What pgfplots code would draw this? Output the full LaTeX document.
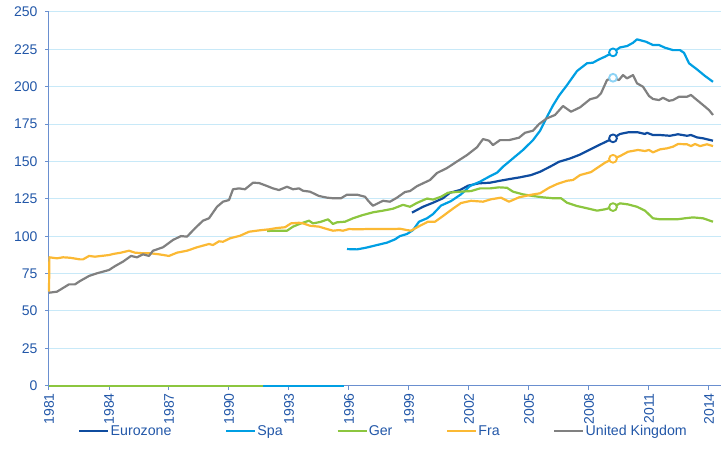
\documentclass[border=0pt]{standalone}
\usepackage{fontspec}
\setmainfont{Liberation Sans}
\usepackage{pgfplots}
\pgfplotsset{compat=1.18}

\definecolor{ezblue}{HTML}{0F4C9F}
\definecolor{spablue}{HTML}{009FE3}
\definecolor{gergreen}{HTML}{8CC63F}
\definecolor{fraorange}{HTML}{FBB934}
\definecolor{ukgrey}{HTML}{808080}
\definecolor{uklight}{HTML}{8DD3F5}
\definecolor{labelblue}{HTML}{2257A8}
\definecolor{axisblue}{HTML}{6A8FCF}
\definecolor{gridblue}{HTML}{C8E9F8}

\begin{document}
\begin{tikzpicture}
\path[use as bounding box] (-49bp,-70.3bp) rectangle (672bp,385.7bp);
\begin{axis}[
    at={(0,0)}, anchor=south west,
    scale only axis,
    width=672bp, height=373.7bp,
    xmin=1981, xmax=2014.6,
    ymin=0, ymax=250,
    clip=false,
    axis lines*=left,
    axis line style={draw=axisblue, line width=1bp},
    xtick={1981,1984,...,2014},
    ytick={0,25,...,250},
    tick align=outside,
    major tick length=4bp,
    tick style={draw=axisblue, line width=1bp},
    ymajorgrids=true,
    grid style={draw=gridblue, line width=1bp},
    font=\fontsize{14bp}{16bp}\selectfont,
    ticklabel style={text=labelblue},
    /pgf/number format/assume math mode=true,
    yticklabel style={xshift=-4bp},
    xticklabel style={rotate=90, anchor=east, /pgf/number format/1000 sep=},
    legend columns=5,
    legend style={at={(0,0)}, anchor=west, xshift=29bp, yshift=-45.3bp,
        draw=none, fill=none, inner sep=0pt,
        font=\fontsize{14.2bp}{16bp}\selectfont, text=labelblue,
        nodes={inner xsep=1bp, inner ysep=1bp},
        /tikz/every even column/.append style={column sep=52.5bp}},
    legend cell align=left,
    legend image code/.code={\draw[#1, line width=2.5bp] (0bp,0bp) -- (29bp,0bp);},
    every axis plot/.append style={line width=2.2bp, line join=round},
]
% Eurozone
\addplot[ezblue] coordinates {
(1999.15,115.8)(1999.7,119.7)(2000.2,122.4)(2000.7,125.4)(2001.05,129.1)(2001.55,130.9)(2001.95,133.8)(2002.5,135.4)(2003.05,135.8)(2003.55,137.1)(2004.05,138.3)(2004.55,139.4)(2005.1,140.9)(2005.55,143.1)(2006.05,146.5)(2006.5,149.8)(2007.05,152)(2007.55,154.6)(2008.05,158)(2008.55,161.3)(2009.2,165.5)(2009.55,168.4)(2009.95,169.5)(2010.45,169.5)(2010.8,168.4)(2010.9,169.2)(2011.2,167.7)(2011.55,167.7)(2012.05,167.2)(2012.45,168.2)(2012.9,167.2)(2013.1,167.7)(2013.4,166.1)(2013.7,165.5)(2014.2,163.9)
};
\addlegendentry{Eurozone}
% Spa
\addplot[spablue, forget plot] coordinates {(1991.7,0)(1995.75,0)};
\addplot[spablue] coordinates {
(1995.9,91.4)(1996.4,91.2)(1996.85,92.3)(1997.4,94.1)(1997.9,95.7)(1998.3,97.9)(1998.55,100.1)(1998.9,101.5)(1999.2,104.1)(1999.5,109.7)(1999.9,112)(2000.2,114.8)(2000.6,120.5)(2001.1,123.5)(2001.6,128)(2002.05,133.6)(2002.55,136.5)(2003.0,139.8)(2003.4,142.5)(2003.7,146.5)(2004.2,152.1)(2004.7,157.7)(2005.2,164.3)(2005.55,170.5)(2005.9,179.9)(2006.2,187.5)(2006.5,194)(2006.9,201.1)(2007.4,210.5)(2007.9,215.7)(2008.2,216.1)(2008.5,218.3)(2008.8,220.1)(2009.2,223)(2009.55,226.3)(2009.9,227.2)(2010.2,229.4)(2010.4,231.7)(2010.85,230.1)(2011.2,227.9)(2011.5,227.9)(2011.8,226.1)(2012.2,224.5)(2012.55,224.5)(2012.75,222.7)(2013.0,215.7)(2013.4,211.6)(2013.8,207.2)(2014.2,203.3)
};
\addlegendentry{Spa}
% Ger
\addplot[gergreen, forget plot] coordinates {(1981,0)(1991.7,0)};
\addplot[gergreen] coordinates {
(1991.9,103.5)(1992.4,103.7)(1992.9,103.7)(1993.2,106.4)(1993.6,108.6)(1994.0,110.4)(1994.2,108.6)(1994.55,109.5)(1994.95,111.3)(1995.2,108.2)(1995.4,109.3)(1995.8,109.7)(1996.2,112)(1996.7,114.2)(1997.2,116)(1997.7,117.1)(1998.2,118.4)(1998.7,121)(1999.05,119.7)(1999.4,122.3)(1999.9,125.2)(2000.2,124.5)(2000.6,126.4)(2000.95,129.1)(2001.55,129.8)(2002.1,130.2)(2002.55,132)(2003.05,132)(2003.5,132.7)(2003.9,132.4)(2004.2,129.8)(2004.7,128)(2005.2,126.9)(2005.7,126)(2006.2,125.4)(2006.6,125.4)(2006.9,122.4)(2007.4,120.2)(2007.9,118.7)(2008.4,117.1)(2008.8,118)(2009.2,119.5)(2009.55,122)(2009.95,121.3)(2010.4,119.7)(2010.8,117.1)(2011.2,112)(2011.55,111.3)(2012.4,111.3)(2012.8,112)(2013.2,112.6)(2013.7,112)(2014.2,109.7)
};
\addlegendentry{Ger}
% Fra
\addplot[fraorange] coordinates {
(1981.0,63)(1981.02,85.9)(1981.4,85.2)(1981.7,85.9)(1982.05,85.6)(1982.55,84.5)(1982.7,84.5)(1983.0,86.8)(1983.3,86.3)(1983.6,86.8)(1984.0,87.4)(1984.2,88.1)(1984.6,89)(1985.0,90.3)(1985.3,89)(1985.7,88.6)(1986.05,88.6)(1986.5,87.9)(1987.0,86.8)(1987.4,89)(1987.9,90.3)(1988.4,92.6)(1989.0,94.8)(1989.2,94.1)(1989.5,96.6)(1989.7,96.3)(1990.05,98.6)(1990.55,100.3)(1991.0,103)(1991.5,103.9)(1992.0,104.6)(1992.4,105.5)(1992.8,106)(1993.1,108.6)(1993.5,109)(1993.7,108.6)(1994.05,107)(1994.5,106.4)(1994.9,104.8)(1995.2,103.7)(1995.5,104.1)(1995.7,103.7)(1996.0,104.8)(1996.4,104.6)(1996.9,104.8)(1997.55,104.8)(1998.2,104.8)(1998.55,105)(1998.9,104.1)(1999.1,103.7)(1999.55,107)(1999.95,109.7)(2000.3,109.7)(2000.7,113.5)(2001.2,118.5)(2001.6,122.2)(2002.1,123.7)(2002.7,123.1)(2003.1,124.7)(2003.6,125.8)(2004.0,123.1)(2004.5,126)(2005.05,127.6)(2005.55,128.7)(2006.0,132.4)(2006.4,134.9)(2006.9,137.1)(2007.2,137.6)(2007.55,140.9)(2008.1,142.9)(2008.5,146.5)(2008.8,149.2)(2009.2,151.8)(2009.55,153.6)(2009.95,156.5)(2010.45,157.7)(2010.8,157)(2011.0,157.7)(2011.2,156.1)(2011.55,158.1)(2011.9,158.8)(2012.2,159.9)(2012.45,161.7)(2012.9,161.5)(2013.1,160.3)(2013.3,161.7)(2013.55,160.3)(2013.9,161.5)(2014.2,160.3)
};
\addlegendentry{Fra}
% United Kingdom
\addplot[ukgrey] coordinates {
(1981.0,62.2)(1981.4,62.9)(1982.0,67.8)(1982.3,67.8)(1982.55,70)(1983.0,73.4)(1983.4,75.2)(1984.0,77.4)(1984.3,80)(1984.7,83)(1985.1,86.8)(1985.4,85.9)(1985.7,87.9)(1986.0,86.8)(1986.2,90.3)(1986.7,92.6)(1987.2,97.5)(1987.6,100.1)(1987.9,99.7)(1988.3,105.3)(1988.7,110.4)(1989.0,112)(1989.4,119.7)(1989.7,123.1)(1990.0,124.2)(1990.2,131.4)(1990.5,132)(1990.8,131.4)(1991.2,135.8)(1991.5,135.6)(1991.9,133.6)(1992.2,132)(1992.5,130.9)(1992.9,133.1)(1993.2,131.4)(1993.5,132)(1993.7,130.4)(1994.05,129.8)(1994.5,126.9)(1994.9,125.8)(1995.2,125.4)(1995.6,125.4)(1995.9,127.8)(1996.4,127.8)(1996.8,126.4)(1997.0,123.1)(1997.2,120.4)(1997.5,122.4)(1997.7,123.7)(1998.05,123.1)(1998.4,125.8)(1998.8,129.6)(1999.05,130.2)(1999.4,133.5)(1999.7,135.4)(2000.05,137.6)(2000.4,142.3)(2000.9,145.6)(2001.4,150)(2001.9,154.3)(2002.4,159.5)(2002.7,165)(2003.0,163.9)(2003.2,161)(2003.55,164.3)(2004.0,164.3)(2004.5,165.9)(2004.8,169.2)(2005.2,170.6)(2005.5,175)(2005.9,178.9)(2006.3,181.1)(2006.7,187.1)(2007.1,183.3)(2007.55,186.2)(2008.05,191.6)(2008.4,192.9)(2008.6,195.6)(2008.9,204.5)(2009.2,206)(2009.5,204.5)(2009.7,207.8)(2009.9,205.6)(2010.2,207.8)(2010.4,202.3)(2010.7,200)(2011.0,193.8)(2011.2,191.8)(2011.5,191.1)(2011.7,192.6)(2012.0,190.6)(2012.2,191.1)(2012.5,193.3)(2012.9,193.3)(2013.1,194.5)(2013.3,192.2)(2013.7,187.8)(2014.0,184.4)(2014.2,181.1)
};
\addlegendentry{United Kingdom}
% circles marking 2009
\addplot[only marks, forget plot, mark=*, mark size=3.9bp, line width=1.9bp, draw=ezblue, fill=white] coordinates {(2009.2,165.5)};
\addplot[only marks, forget plot, mark=*, mark size=3.9bp, line width=1.9bp, draw=spablue, fill=white] coordinates {(2009.2,223)};
\addplot[only marks, forget plot, mark=*, mark size=3.9bp, line width=1.9bp, draw=gergreen, fill=white] coordinates {(2009.2,119.5)};
\addplot[only marks, forget plot, mark=*, mark size=3.9bp, line width=1.9bp, draw=fraorange, fill=white] coordinates {(2009.2,151.8)};
\addplot[only marks, forget plot, mark=*, mark size=3.9bp, line width=1.9bp, draw=uklight, fill=white] coordinates {(2009.2,206)};
\end{axis}
\end{tikzpicture}
\end{document}
